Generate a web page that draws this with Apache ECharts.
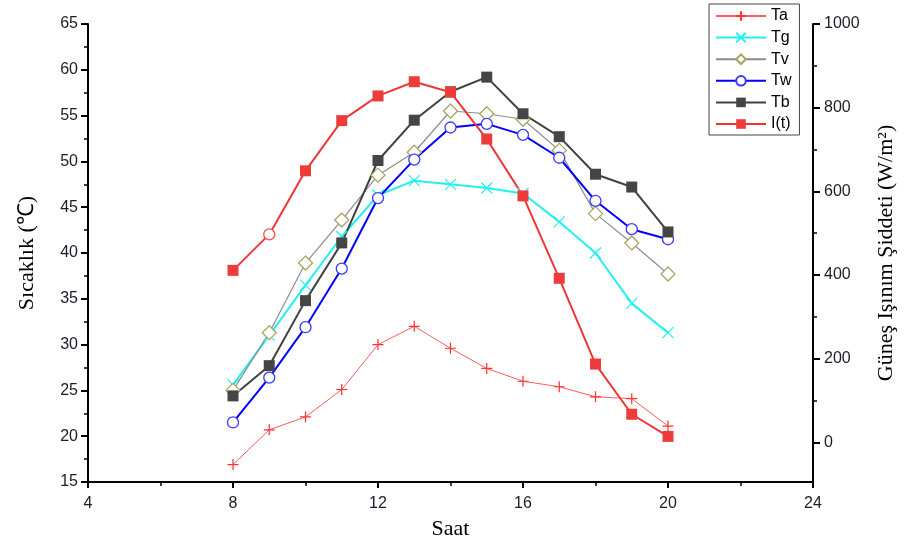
<!DOCTYPE html>
<html>
<head>
<meta charset="utf-8">
<script src="https://cdn.jsdelivr.net/npm/echarts@6/dist/echarts.min.js"></script>
<style>html,body{margin:0;padding:0;background:#fff}#c{width:915px;height:547px}</style>
</head>
<body>
<div id="c"></div>
<script>
const hours = [8, 9, 10, 11, 12, 13, 14, 15, 16, 17, 18, 19, 20];
const Ta = [16.9, 20.7, 22.1, 25.1, 30.0, 32.0, 29.6, 27.4, 26.0, 25.4, 24.3, 24.1, 21.1];
const Tg = [25.6, 31.0, 36.5, 41.8, 46.3, 47.9, 47.5, 47.1, 46.5, 43.4, 40.0, 34.5, 31.3];
const Tv = [25.0, 31.3, 38.9, 43.6, 48.5, 51.0, 55.5, 55.2, 54.6, 51.2, 44.3, 41.1, 37.7];
const Tw = [21.5, 26.4, 31.9, 38.3, 46.0, 50.2, 53.7, 54.1, 52.9, 50.4, 45.7, 42.6, 41.5];
const Tb = [24.4, 27.7, 34.8, 41.1, 50.1, 54.5, 57.6, 59.2, 55.2, 52.7, 48.6, 47.2, 42.3];
const It = [411, 497, 649, 769, 828, 862, 837, 725, 589, 392, 187, 67, 14];
const xTicks = [4, 8, 12, 16, 20, 24];
const leftTicks = [15, 20, 25, 30, 35, 40, 45, 50, 55, 60, 65];
const rightTicks = [0, 200, 400, 600, 800, 1000];
const rightMinor = [100, 300, 500, 700, 900];

const pair = arr => hours.map((h, i) => [h, arr[i]]);
const plusPath = 'path://M0,5L10,5M5,0L5,10';
const crossPath = 'path://M0,0L10,10M10,0L0,10';
const labelStyle = {color: '#1c1c28', fontSize: 16, fontFamily: 'Liberation Sans'};
const nameStyle = {color: '#000', fontSize: 22, fontFamily: 'Liberation Serif'};
const axisLine = {show: true, onZero: false, lineStyle: {color: '#000', width: 2}};

const chart = echarts.init(document.getElementById('c'));
chart.setOption({
  animation: false,
  grid: {left: 88, right: 102, top: 24, bottom: 65},
  legend: {
    orient: 'vertical', left: 709, top: 4,
    itemWidth: 50, itemHeight: 12, itemGap: 5.6,
    padding: [4, 8, 3, 6],
    borderColor: '#444', borderWidth: 1,
    textStyle: {color: '#000', fontSize: 16, fontFamily: 'Liberation Sans'},
    data: ['Ta', 'Tg', 'Tv', 'Tw', 'Tb', 'I(t)']
  },
  xAxis: {
    type: 'value', min: 4, max: 24, interval: 4,
    name: 'Saat', nameLocation: 'middle', nameGap: 36, nameTextStyle: nameStyle,
    axisLine: axisLine, splitLine: {show: false},
    axisTick: {show: true, length: 6, lineStyle: {color: '#000', width: 2}},
    minorTick: {show: true, splitNumber: 2, length: 4, lineStyle: {color: '#000', width: 1.5}},
    axisLabel: Object.assign({margin: 14, customValues: xTicks}, labelStyle)
  },
  yAxis: [{
    type: 'value', min: 15, max: 65, interval: 5, position: 'left',
    name: 'Sıcaklık (℃)', nameLocation: 'middle', nameGap: 50, nameTextStyle: nameStyle,
    axisLine: axisLine, splitLine: {show: false},
    axisTick: {show: true, length: 7, lineStyle: {color: '#000', width: 2}},
    minorTick: {show: true, splitNumber: 2, length: 4, lineStyle: {color: '#000', width: 1.5}},
    axisLabel: Object.assign({margin: 10, customValues: leftTicks}, labelStyle)
  }, {
    type: 'value', min: -95, max: 1000, position: 'right',
    name: 'Güneş Işınım Şiddeti (W/m²)', nameLocation: 'middle', nameGap: 62, nameTextStyle: nameStyle,
    axisLine: axisLine, splitLine: {show: false},
    axisTick: {show: true, length: 7, customValues: rightTicks, lineStyle: {color: '#000', width: 2}},
    axisLabel: Object.assign({margin: 11, customValues: rightTicks, formatter: v => String(v)}, labelStyle)
  }, {
    type: 'value', min: -95, max: 1000, position: 'right',
    axisLine: {show: false}, splitLine: {show: false},
    axisTick: {show: true, length: 4, customValues: rightMinor, lineStyle: {color: '#000', width: 1.5}},
    axisLabel: {show: false}
  }],
  series: [
    {name: 'Ta', type: 'line', data: pair(Ta), symbol: plusPath, symbolSize: 11,
     lineStyle: {color: '#ff5b5b', width: 1}, itemStyle: {color: '#ff3030', borderColor: '#ff3030', borderWidth: 1.2}},
    {name: 'Tg', type: 'line', data: pair(Tg), symbol: crossPath, symbolSize: 11,
     lineStyle: {color: '#22f0f0', width: 2}, itemStyle: {color: '#22f0f0', borderColor: '#22f0f0', borderWidth: 1.2}},
    {name: 'Tv', type: 'line', data: pair(Tv), symbol: 'diamond', symbolSize: 14,
     lineStyle: {color: '#8c8c8c', width: 1.2}, itemStyle: {color: '#fff', borderColor: '#a9a460', borderWidth: 1.3}},
    {name: 'Tw', type: 'line', data: pair(Tw), symbol: 'circle', symbolSize: 11,
     lineStyle: {color: '#0000ff', width: 2}, itemStyle: {color: '#fff', borderColor: '#3a3aff', borderWidth: 1.3}},
    {name: 'Tb', type: 'line', data: pair(Tb), symbol: 'rect', symbolSize: 11,
     lineStyle: {color: '#404040', width: 2}, itemStyle: {color: '#454545'}},
    {name: 'I(t)', type: 'line', yAxisIndex: 1,
     data: pair(It).map((p, i) => i === 1 ? {value: p, symbol: 'circle', itemStyle: {color: '#fff', borderColor: '#f05050', borderWidth: 1.3}} : p),
     symbol: 'rect', symbolSize: 11,
     lineStyle: {color: '#ee3636', width: 2}, itemStyle: {color: '#ee3b3b'}}
  ]
});
</script>
</body>
</html>
